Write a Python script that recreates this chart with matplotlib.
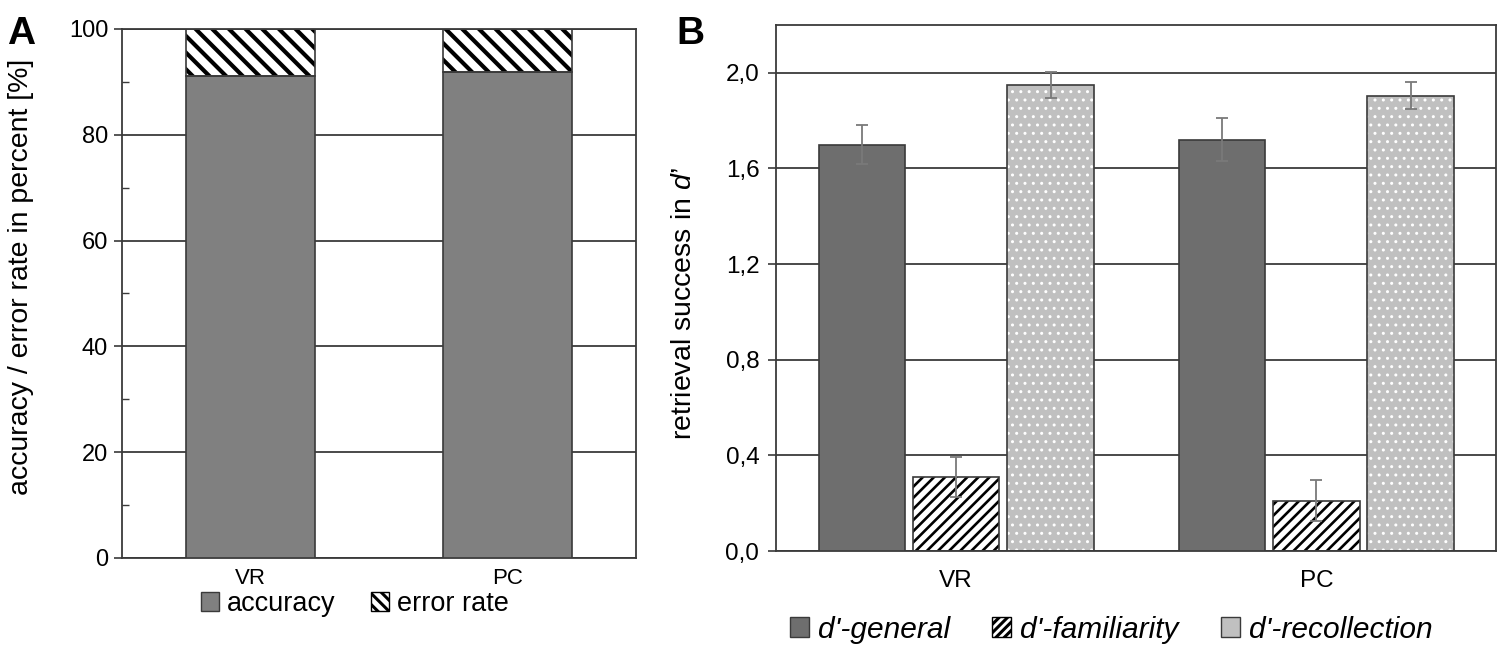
import numpy as np
import matplotlib
matplotlib.use('Agg')
import matplotlib.pyplot as plt
from matplotlib.ticker import MultipleLocator
from matplotlib.patches import Patch

plt.rcParams['font.family'] = ['Liberation Sans', 'DejaVu Sans']
plt.rcParams['mathtext.fontset'] = 'custom'
plt.rcParams['mathtext.rm'] = 'Liberation Sans'
plt.rcParams['mathtext.it'] = 'Liberation Sans:italic'
plt.rcParams['hatch.linewidth'] = 2.2

# panel A data
groups = ['VR', 'PC']
accuracy = [91.2, 91.9]
error_rate = [100 - a for a in accuracy]

# panel B data
d_general = [1.70, 1.72]
d_general_err = [0.08, 0.09]
d_familiarity = [0.31, 0.21]
d_familiarity_err = [0.085, 0.085]
d_recollection = [1.95, 1.905]
d_recollection_err = [0.055, 0.058]
b_ticks = [0.0, 0.4, 0.8, 1.2, 1.6, 2.0]
b_ticklabels = ['0,0', '0,4', '0,8', '1,2', '1,6', '2,0']

edge = '#3a3a3a'
grid_c = '#3a3a3a'
err_c = '#7a7a7a'


def style_axes(ax):
    for s in ax.spines.values():
        s.set_color(edge)
        s.set_linewidth(1.3)
    ax.tick_params(axis='x', length=0)
    ax.tick_params(axis='y', which='major', length=6, width=1.2, color=edge, direction='out')
    ax.yaxis.grid(True, color=grid_c, linewidth=1.3)
    ax.set_axisbelow(True)


def hatch_bar(ax, x, h, w, face, hatch, hcolor, lw_h, bottom=0):
    # fill with hatch, then outline on top
    bars = ax.bar(x, h, w, bottom=bottom, color=face, edgecolor=hcolor, hatch=hatch,
                  linewidth=0, zorder=2)
    for b in bars:
        if hasattr(b, 'set_hatch_linewidth'):
            b.set_hatch_linewidth(lw_h)
    ax.bar(x, h, w, bottom=bottom, fill=False, edgecolor=edge, linewidth=1.2, zorder=3)
    return bars


fig = plt.figure(figsize=(14.99, 6.51), dpi=100)

# ---- panel A
axA = fig.add_axes([0.0814, 0.1429, 0.343, 0.8126])
x = np.arange(len(groups))
axA.bar(x, accuracy, 0.5, color='#808080', edgecolor=edge, linewidth=1.2, zorder=3)
hatch_bar(axA, x, error_rate, 0.5, 'white', '\\\\', 'black', 3.0, bottom=accuracy)
axA.set_xlim(-0.5, 1.5)
axA.set_ylim(0, 100)
axA.set_xticks(x)
axA.set_xticklabels(groups, fontsize=16)
axA.set_yticks([0, 20, 40, 60, 80, 100])
axA.yaxis.set_minor_locator(MultipleLocator(10))
style_axes(axA)
axA.tick_params(axis='y', which='minor', length=5, width=1.0, color=edge, direction='in')
axA.tick_params(axis='y', labelsize=17, pad=4)
axA.tick_params(axis='x', pad=7)
axA.set_ylabel('accuracy / error rate in percent [%]', fontsize=20.5)
axA.yaxis.set_label_coords(-0.171, 0.531)

hA = [Patch(facecolor='#808080', edgecolor=edge),
      Patch(facecolor='white', edgecolor='black', hatch='\\\\\\')]
axA.legend(hA, ['accuracy', 'error rate'], loc='center', bbox_to_anchor=(0.453, -0.087),
           ncol=2, frameon=False, fontsize=19.5, handlelength=0.65, handleheight=0.65,
           handletextpad=0.3, columnspacing=1.3, borderaxespad=0)
fig.text(0.005, 0.975, 'A', fontsize=28, fontweight='bold', va='top')

# ---- panel B
axB = fig.add_axes([0.5177, 0.1536, 0.4806, 0.808])
off = 0.262
w = 0.24
axB.bar(x - off, d_general, w, color='#6e6e6e', edgecolor=edge, linewidth=1.2, zorder=3)
hatch_bar(axB, x, d_familiarity, w, 'white', '///', 'black', 1.9)
hatch_bar(axB, x + off, d_recollection, w, '#c0c0c0', '..', 'white', 1.0)
for xs, v, e in [(x - off, d_general, d_general_err),
                 (x, d_familiarity, d_familiarity_err),
                 (x + off, d_recollection, d_recollection_err)]:
    axB.errorbar(xs, v, yerr=e, fmt='none', ecolor=err_c, elinewidth=1.3, capsize=4,
                 capthick=1.3, zorder=4)
axB.set_xlim(-0.5, 1.5)
axB.set_ylim(0, 2.2)
axB.set_xticks(x)
axB.set_xticklabels(groups, fontsize=17.5)
axB.set_yticks(b_ticks)
axB.set_yticklabels(b_ticklabels)
style_axes(axB)
axB.tick_params(axis='y', labelsize=17.5, pad=6)
axB.tick_params(axis='x', pad=14)
axB.set_ylabel('retrieval success in $\\mathit{d}$\u2019', fontsize=20.5)
axB.yaxis.set_label_coords(-0.110, 0.47)

hB = [Patch(facecolor='#6e6e6e', edgecolor=edge),
      Patch(facecolor='white', edgecolor='black', hatch='////'),
      Patch(facecolor='#c0c0c0', edgecolor=edge)]
axB.legend(hB, ["d'-general", "d'-familiarity", "d'-recollection"], loc='center',
           bbox_to_anchor=(0.465, -0.150), ncol=3, frameon=False,
           prop={'size': 21.5, 'style': 'italic'}, handlelength=0.65, handleheight=0.65,
           handletextpad=0.3, columnspacing=1.4, borderaxespad=0)
fig.text(0.451, 0.975, 'B', fontsize=28, fontweight='bold', va='top')

fig.savefig('out.png', dpi=100)
